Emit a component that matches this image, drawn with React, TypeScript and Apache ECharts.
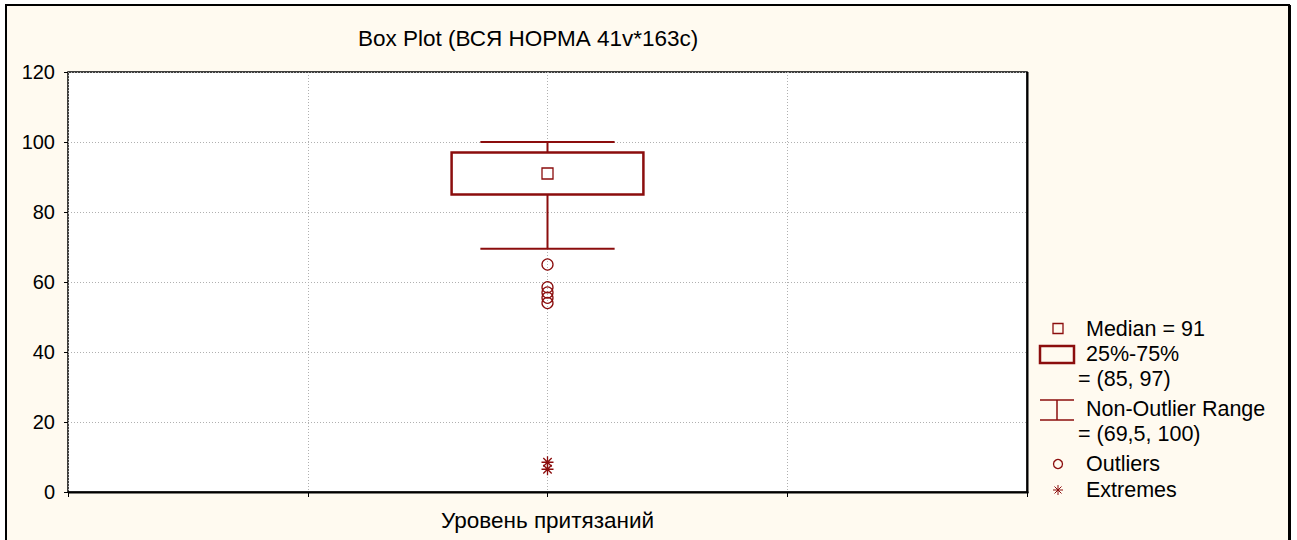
import React, { useEffect, useRef } from "react";
import * as echarts from "echarts";

const categories = ["Уровень притязаний"];
const nonOutlierMin = [69.5];
const q1 = [85];
const median = [91];
const q3 = [97];
const nonOutlierMax = [100];
const outliers = [65, 58.5, 57, 55.5, 54];
const extremes = [8.5, 6.5];
const yMin = 0;
const yMax = 120;
const yStep = 20;
const gridSlots = [0, 4];
const titleText = "Box Plot (ВСЯ НОРМА 41v*163c)";

const RED = "#8b0d0d";
const FONT = "Liberation Sans, Arial, sans-serif";
const FS = 21.5;

const fmt = (v: number) => String(v).replace(".", ",");

export default function App() {
  const ref = useRef<HTMLDivElement>(null);
  useEffect(() => {
    document.body.style.margin = "0";
    const chart = echarts.init(ref.current!, null, { renderer: "svg" });
    const asterisk = "path://M0,5L10,5M5,0L5,10M1.5,1.5L8.5,8.5M8.5,1.5L1.5,8.5";

    const legendX = 1040;
    const legendTextX = 1086;
    const legendTextX2 = 1078;
    const t = (text: string, x: number, y: number) => ({
      type: "text",
      x,
      y,
      style: { text, fill: "#000", fontSize: FS, fontFamily: FONT, verticalAlign: "middle", align: "left" },
    });
    const ln = (x1: number, y1: number, x2: number, y2: number, w = 1.5) => ({
      type: "line",
      shape: { x1, y1, x2, y2 },
      style: { stroke: RED, lineWidth: w },
    });
    const dotted = { color: "#b0b0b0", type: [1, 2], width: 1 };

    chart.setOption({
      animation: false,
      backgroundColor: "#ffffff",
      textStyle: { fontFamily: FONT },
      title: {
        text: titleText,
        left: 353,
        top: 22,
        textStyle: { fontSize: 22.5, fontWeight: "normal", color: "#000", fontFamily: FONT },
      },
      grid: {
        left: 68,
        right: 270,
        top: 72,
        bottom: 48,
        show: true,
        backgroundColor: "#ffffff",
        borderColor: "#000",
        borderWidth: 1.5,
      },
      xAxis: [
        {
          type: "category",
          data: categories,
          position: "bottom",
          axisLine: { show: false },
          axisTick: { show: false },
          splitLine: { show: false },
          axisLabel: { color: "#000", fontSize: 22.5, margin: 17, fontFamily: FONT },
        },
        {
          type: "value",
          min: gridSlots[0],
          max: gridSlots[1],
          interval: 1,
          position: "bottom",
          axisLine: { show: false },
          axisLabel: { show: false },
          axisTick: { show: true, inside: false, length: 5, lineStyle: { color: "#000", width: 1 } },
          splitLine: { show: true, lineStyle: dotted },
        },
      ],
      yAxis: {
        type: "value",
        min: yMin,
        max: yMax,
        interval: yStep,
        axisLine: { show: false },
        axisTick: { show: true, length: 4, lineStyle: { color: "#000" } },
        axisLabel: { color: "#000", fontSize: 20, margin: 13, fontFamily: FONT },
        splitLine: { show: true, lineStyle: dotted },
      },
      series: [
        {
          type: "custom",
          xAxisIndex: 0,
          z: 3,
          data: categories.map((c, i) => [i, nonOutlierMin[i], q1[i], median[i], q3[i], nonOutlierMax[i]]),
          encode: { x: 0, y: [1, 2, 3, 4, 5] },
          renderItem: (params: any, api: any) => {
            const x = api.value(0);
            const lo = api.coord([x, api.value(1)]);
            const b1 = api.coord([x, api.value(2)]);
            const b3 = api.coord([x, api.value(4)]);
            const hi = api.coord([x, api.value(5)]);
            const band = api.size([1, 0])[0];
            const bw = band * 0.2;
            const cw = band * 0.14;
            const cx = lo[0];
            const st = { stroke: RED, lineWidth: 2, fill: "none" };
            return {
              type: "group",
              children: [
                { type: "line", shape: { x1: cx, y1: hi[1], x2: cx, y2: b3[1] }, style: st },
                { type: "line", shape: { x1: cx, y1: b1[1], x2: cx, y2: lo[1] }, style: st },
                { type: "line", shape: { x1: cx - cw / 2, y1: hi[1], x2: cx + cw / 2, y2: hi[1] }, style: st },
                { type: "line", shape: { x1: cx - cw / 2, y1: lo[1], x2: cx + cw / 2, y2: lo[1] }, style: st },
                { type: "rect", shape: { x: cx - bw / 2, y: b3[1], width: bw, height: b1[1] - b3[1] }, style: { stroke: RED, lineWidth: 2.5, fill: "#fff" } },
              ],
            };
          },
        },
        {
          type: "scatter",
          xAxisIndex: 0,
          z: 4,
          symbol: "rect",
          symbolSize: 11,
          itemStyle: { color: "rgba(0,0,0,0)", borderColor: RED, borderWidth: 1.3, opacity: 1 },
          data: categories.map((c, i) => [c, median[i]]),
        },
        {
          type: "scatter",
          xAxisIndex: 0,
          z: 4,
          symbol: "circle",
          symbolSize: 11,
          itemStyle: { color: "rgba(0,0,0,0)", borderColor: RED, borderWidth: 1.3, opacity: 1 },
          data: outliers.map((v) => [categories[0], v]),
        },
        {
          type: "scatter",
          xAxisIndex: 0,
          z: 4,
          symbol: asterisk,
          symbolSize: 12,
          itemStyle: { color: "rgba(0,0,0,0)", borderColor: RED, borderWidth: 1.3, opacity: 1 },
          data: extremes.map((v) => [categories[0], v]),
        },
      ],
      graphic: [
        {
          type: "rect",
          z: -10,
          shape: { x: 6, y: 5, width: 1283, height: 600 },
          style: { fill: "#fffaf0", stroke: "#000", lineWidth: 2 },
        },
        {
          type: "line",
          z: -9,
          shape: { x1: 1289.5, y1: 5, x2: 1289.5, y2: 540 },
          style: { stroke: "#000", lineWidth: 3 },
        },
        {
          type: "line",
          z: 10,
          shape: { x1: 1027.5, y1: 72, x2: 1027.5, y2: 493 },
          style: { stroke: "#000", lineWidth: 2 },
        },
        {
          type: "line",
          z: 10,
          shape: { x1: 68, y1: 492.5, x2: 1028.5, y2: 492.5 },
          style: { stroke: "#000", lineWidth: 2 },
        },
        {
          type: "rect",
          shape: { x: 1053, y: 323.5, width: 10, height: 10 },
          style: { fill: "none", stroke: RED, lineWidth: 1.3 },
        },
        t(`Median = ${fmt(median[0])}`, legendTextX, 329),
        {
          type: "rect",
          shape: { x: legendX, y: 346, width: 34, height: 17 },
          style: { fill: "none", stroke: RED, lineWidth: 2.5 },
        },
        t("25%-75%", legendTextX, 354),
        t(`= (${fmt(q1[0])}, ${fmt(q3[0])})`, legendTextX2, 379),
        ln(legendX, 400, legendX + 34, 400),
        ln(legendX, 420, legendX + 34, 420),
        ln(legendX + 17, 400, legendX + 17, 420),
        t("Non-Outlier Range", legendTextX, 409),
        t(`= (${fmt(nonOutlierMin[0])}, ${fmt(nonOutlierMax[0])})`, legendTextX2, 434),
        {
          type: "circle",
          shape: { cx: 1058, cy: 464, r: 4.5 },
          style: { fill: "none", stroke: RED, lineWidth: 1.3 },
        },
        t("Outliers", legendTextX, 464),
        ln(1053, 490, 1063, 490, 1),
        ln(1058, 485, 1058, 495, 1),
        ln(1054.5, 486.5, 1061.5, 493.5, 1),
        ln(1061.5, 486.5, 1054.5, 493.5, 1),
        t("Extremes", legendTextX, 490),
      ],
    });
    return () => chart.dispose();
  }, []);
  return <div ref={ref} style={{ width: 1297, height: 540 }} />;
}
